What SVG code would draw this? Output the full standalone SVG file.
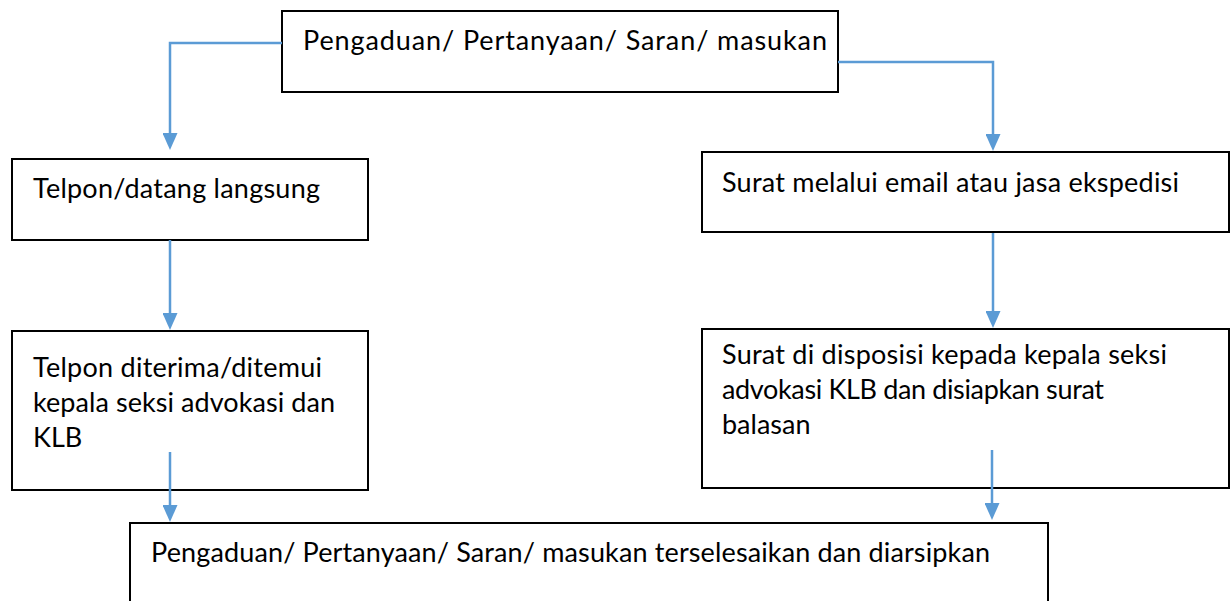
<svg xmlns="http://www.w3.org/2000/svg" width="1230" height="601" viewBox="0 0 1230 601">
  <style>
    .box { fill: #ffffff; stroke: #000000; stroke-width: 2; }
    .lbl { font-family: Lato, "Open Sans", sans-serif; font-size: 27px; fill: #000000; }
    .conn { fill: none; stroke: #5B9BD5; stroke-width: 2.5; marker-end: url(#arr); }
  </style>
  <defs>
    <marker id="arr" markerUnits="userSpaceOnUse" viewBox="0 0 17 15" markerWidth="17" markerHeight="15" refX="7" refY="7.5" orient="auto">
      <path d="M0,0 L17,7.5 L0,15 Z" fill="#5B9BD5"/>
    </marker>
  </defs>
  <rect width="1230" height="601" fill="#ffffff"/>

  <g id="node-top">
    <rect class="box" x="282" y="11" width="556" height="81"/>
    <text class="lbl" x="303" y="50" textLength="524" lengthAdjust="spacing">Pengaduan/ Pertanyaan/ Saran/ masukan</text>
  </g>
  <g id="node-telpon">
    <rect class="box" x="12" y="159" width="356" height="81"/>
    <text class="lbl" x="33" y="198" textLength="287" lengthAdjust="spacing">Telpon/datang langsung</text>
  </g>
  <g id="node-surat">
    <rect class="box" x="702" y="152" width="527" height="80"/>
    <text class="lbl" x="722" y="192" textLength="457" lengthAdjust="spacing">Surat melalui email atau jasa ekspedisi</text>
  </g>
  <g id="node-diterima">
    <rect class="box" x="12" y="331" width="356" height="159"/>
    <text class="lbl" x="33" y="377" textLength="289" lengthAdjust="spacing">Telpon diterima/ditemui</text>
    <text class="lbl" x="33" y="412" textLength="302" lengthAdjust="spacing">kepala seksi advokasi dan</text>
    <text class="lbl" x="33" y="447">KLB</text>
  </g>
  <g id="node-disposisi">
    <rect class="box" x="702" y="329" width="527" height="159"/>
    <text class="lbl" x="722" y="364" textLength="445" lengthAdjust="spacing">Surat di disposisi kepada kepala seksi</text>
    <text class="lbl" x="722" y="399" textLength="382" lengthAdjust="spacing">advokasi KLB dan disiapkan surat</text>
    <text class="lbl" x="722" y="434">balasan</text>
  </g>
  <g id="node-selesai">
    <rect class="box" x="130" y="523" width="918" height="100"/>
    <text class="lbl" x="151" y="562" textLength="839" lengthAdjust="spacing">Pengaduan/ Pertanyaan/ Saran/ masukan terselesaikan dan diarsipkan</text>
  </g>

  <g id="connectors">
    <path class="conn" d="M282,43 H170 V140"/>
    <path class="conn" d="M838,62 H993 V141"/>
    <path class="conn" d="M170,240 V320"/>
    <path class="conn" d="M993,233 V318"/>
    <path class="conn" d="M170,452 V512"/>
    <path class="conn" d="M992,450 V510"/>
  </g>
</svg>
